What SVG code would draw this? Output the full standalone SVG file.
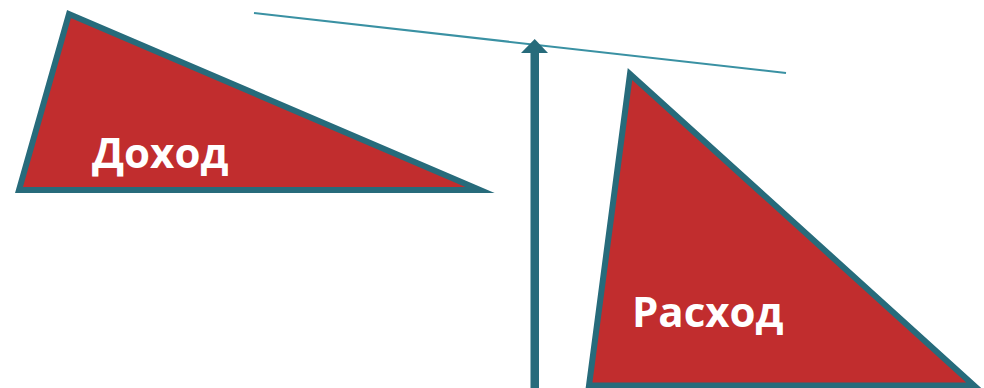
<svg xmlns="http://www.w3.org/2000/svg" width="984" height="388" viewBox="0 0 984 388">
<style>
.tri{fill:#c12d2e;stroke:#276b7b;stroke-width:6;stroke-linejoin:miter;stroke-miterlimit:10}
.lbl{font-family:"Open Sans","Noto Sans",sans-serif;font-weight:bold;font-size:42px;fill:#ffffff}
.beam{stroke:#3a91a3;stroke-width:2;fill:none}
.pivot{fill:#276b7b}
</style>
<rect width="984" height="388" fill="#ffffff"/>
<g id="connectors">
<line class="beam" x1="254" y1="13" x2="786" y2="73"/>
<rect class="pivot" x="530.5" y="51" width="8.5" height="337"/>
<polygon class="pivot" points="521,53 534.7,39 548,53"/>
</g>
<g id="income">
<polygon class="tri" points="69,14 19,190 480,190"/>
<text class="lbl" x="92" y="168">Доход</text>
</g>
<g id="expense">
<polygon class="tri" points="630,74 589,385.5 974,385.5"/>
<text class="lbl" x="632" y="327">Расход</text>
</g>
</svg>
